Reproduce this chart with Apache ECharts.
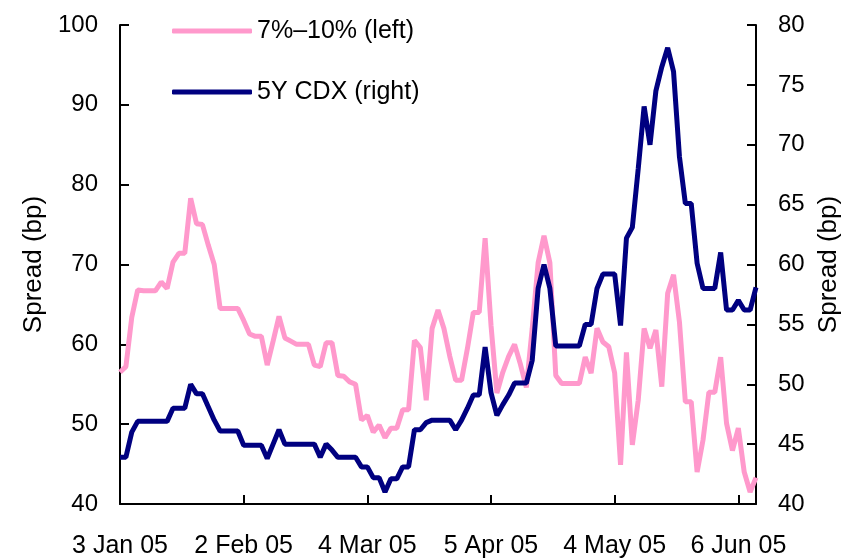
<!DOCTYPE html>
<html lang="en">
<head>
    <meta charset="UTF-8">
    <title>Spread</title>
    <script src="https://cdn.jsdelivr.net/npm/echarts@6/dist/echarts.min.js"></script>
    <style>
        html, body { margin: 0; padding: 0; background: #fff; }
    </style>
</head>
<body>
<div id="main" style="width: 846px;height:559px;"></div>
<script type="text/javascript">
    // trading days on the x axis: weekdays minus market holidays / missing days
    var startDay = '2005-01-03';
    var endDay = '2005-06-09';
    var skipDays = ['2005-01-17', '2005-02-21', '2005-03-25', '2005-05-27', '2005-05-30'];
    var tickLabels = ['3 Jan 05', '2 Feb 05', '4 Mar 05', '5 Apr 05', '4 May 05', '6 Jun 05'];

    // 7%-10% spread, left axis (bp)
    var hy710 = [
        56.5, 57.2, 63.4, 66.8, 66.7, 66.7, 66.7, 67.8, 67.0, 70.3,
        71.4, 71.4, 78.3, 75.1, 75.0, 72.4, 70.0, 64.5, 64.5, 64.5,
        64.5, 63.0, 61.3, 61.0, 61.0, 57.4, 60.4, 63.5, 60.8, 60.4,
        60.0, 60.0, 60.0, 57.4, 57.2, 60.2, 60.2, 56.1, 56.0, 55.3,
        55.0, 50.5, 51.1, 49.0, 49.9, 48.3, 49.5, 49.5, 51.8, 51.8,
        60.5, 59.6, 53.0, 62.0, 64.3, 62.0, 58.5, 55.5, 55.5, 59.5,
        64.0, 64.0, 73.3, 62.4, 53.9, 56.5, 58.5, 60.0, 57.5, 54.6,
        62.0, 70.2, 73.6, 70.2, 56.1, 55.1, 55.1, 55.1, 55.1, 58.4,
        56.4, 62.0, 60.3, 59.7, 56.4, 44.9, 59.0, 47.4, 53.0, 62.0,
        59.5, 61.8, 54.7, 66.4, 68.7, 62.8, 52.8, 52.8, 44.0, 48.0,
        54.0, 54.0, 58.4, 50.1, 46.7, 49.5, 44.0, 41.5, 43.3
    ];
    // 5Y CDX, right axis (bp)
    var cdx5y = [
        43.9, 43.9, 46.0, 46.9, 46.9, 46.9, 46.9, 46.9, 46.9, 48.0,
        48.0, 48.0, 50.0, 49.2, 49.2, 48.1, 47.0, 46.1, 46.1, 46.1,
        46.1, 44.9, 44.9, 44.9, 44.9, 43.8, 45.0, 46.2, 45.0, 45.0,
        45.0, 45.0, 45.0, 45.0, 43.9, 45.0, 44.5, 43.9, 43.9, 43.9,
        43.9, 43.1, 43.1, 42.2, 42.2, 41.0, 42.1, 42.1, 43.1, 43.1,
        46.2, 46.2, 46.8, 47.0, 47.0, 47.0, 47.0, 46.2, 47.0, 48.0,
        49.1, 49.1, 53.1, 49.3, 47.4, 48.3, 49.1, 50.1, 50.1, 50.1,
        52.0, 58.0, 60.0, 58.0, 53.2, 53.2, 53.2, 53.2, 53.2, 55.0,
        55.0, 58.0, 59.2, 59.2, 59.2, 54.9, 62.2, 63.1, 68.0, 73.2,
        70.0, 74.5, 76.5, 78.1, 76.1, 69.0, 65.1, 65.1, 60.1, 58.0,
        58.0, 58.0, 61.0, 56.2, 56.2, 57.0, 56.2, 56.2, 58.1
    ];

    var months = ['Jan', 'Feb', 'Mar', 'Apr', 'May', 'Jun'];
    var days = [];
    var d = new Date(startDay + 'T00:00:00Z');
    var last = new Date(endDay + 'T00:00:00Z');
    while (d <= last) {
        var iso = d.toISOString().slice(0, 10);
        var wd = d.getUTCDay();
        if (wd !== 0 && wd !== 6 && skipDays.indexOf(iso) < 0) {
            days.push(d.getUTCDate() + ' ' + months[d.getUTCMonth()] + ' 05');
        }
        d.setUTCDate(d.getUTCDate() + 1);
    }

    var font = '"Liberation Sans", Arial, sans-serif';
    var showTick = function (idx, val) { return tickLabels.indexOf(val) >= 0; };

    var myChart = echarts.init(document.getElementById('main'));
    var option = {
        animation: false,
        textStyle: { fontFamily: font, color: '#000' },
        grid: { left: 120, right: 90, top: 25, bottom: 55, outerBoundsMode: 'none' },
        legend: {
            orient: 'vertical',
            left: 172,
            top: 17,
            padding: 0,
            itemWidth: 80,
            itemHeight: 5,
            itemGap: 33,
            icon: 'roundRect',
            textStyle: { fontFamily: font, fontSize: 25, color: '#000', lineHeight: 28 },
            data: ['7%\u201310% (left)', '5Y CDX (right)']
        },
        xAxis: {
            type: 'category',
            data: days,
            boundaryGap: false,
            axisLine: { lineStyle: { color: '#000', width: 2 } },
            axisTick: { inside: true, length: 9, interval: showTick, lineStyle: { color: '#000', width: 2 } },
            axisLabel: { interval: showTick, fontSize: 25, color: '#000', margin: 30, fontFamily: font },
            splitLine: { show: false }
        },
        yAxis: [{
            type: 'value',
            min: 40,
            max: 100,
            interval: 10,
            name: 'Spread (bp)',
            nameLocation: 'middle',
            nameRotate: 90,
            nameGap: 65,
            nameTextStyle: { fontSize: 26, color: '#000', fontFamily: font },
            axisLine: { show: true, lineStyle: { color: '#000', width: 2 } },
            axisTick: { show: true, inside: true, length: 9, lineStyle: { color: '#000', width: 2 } },
            axisLabel: { fontSize: 24, color: '#000', margin: 22, fontFamily: font },
            splitLine: { show: false }
        }, {
            type: 'value',
            min: 40,
            max: 80,
            interval: 5,
            position: 'right',
            name: 'Spread (bp)',
            nameLocation: 'middle',
            nameRotate: 90,
            nameGap: 60,
            nameTextStyle: { fontSize: 26, color: '#000', fontFamily: font },
            axisLine: { show: true, lineStyle: { color: '#000', width: 2 } },
            axisTick: { show: true, inside: true, length: 9, lineStyle: { color: '#000', width: 2 } },
            axisLabel: { fontSize: 24, color: '#000', margin: 22, fontFamily: font },
            splitLine: { show: false }
        }],
        series: [{
            name: '7%\u201310% (left)',
            type: 'line',
            yAxisIndex: 0,
            data: hy710,
            showSymbol: false,
            symbol: 'none',
            color: '#FF99CC',
            lineStyle: { color: '#FF99CC', width: 5 }
        }, {
            name: '5Y CDX (right)',
            type: 'line',
            yAxisIndex: 1,
            data: cdx5y,
            showSymbol: false,
            symbol: 'none',
            color: '#000080',
            lineStyle: { color: '#000080', width: 5 }
        }]
    };
    myChart.setOption(option);
</script>
</body>
</html>
